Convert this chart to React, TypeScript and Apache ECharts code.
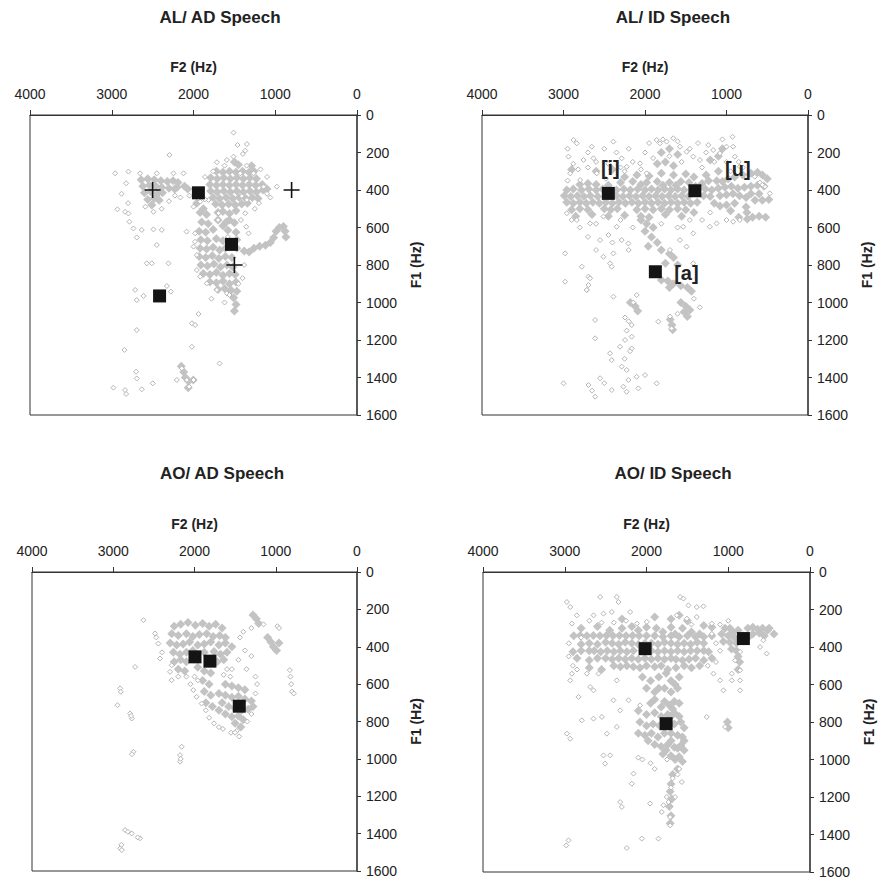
import React, { useEffect, useRef } from "react";
import * as echarts from "echarts";

const FONT = '"Liberation Sans", Arial, Helvetica, sans-serif';

const panelTitles = ["AL/ AD Speech", "AL/ ID Speech", "AO/ AD Speech", "AO/ ID Speech"];
const f2Name = "F2 (Hz)";
const f1Name = "F1 (Hz)";

// ---------- Panel 1: AL/ AD ----------
const alAdDense = [
  [2640,345],[2560,340],[2480,345],[2400,350],[2620,380],[2540,375],[2460,380],[2390,385],
  [2600,415],[2520,410],[2440,420],[2380,415],[2560,450],[2480,445],[2420,455],[2510,480],
  [2320,355],[2250,350],[2190,360],[2300,390],[2230,395],[2200,385],[2110,380],[2070,395],[1960,470],
  [1500,250],[1450,265],[1290,270],
  [1720,300],[1640,305],[1560,300],[1480,305],[1400,300],[1320,305],[1260,300],
  [1790,335],[1710,340],[1630,335],[1550,340],[1470,335],[1390,340],[1310,335],[1230,340],
  [1800,370],[1720,375],[1640,370],[1560,375],[1480,370],[1400,375],[1320,370],[1240,375],[1160,370],
  [1790,405],[1710,410],[1630,405],[1550,410],[1470,405],[1390,410],[1310,405],[1230,410],[1150,400],[1100,395],
  [1760,440],[1680,445],[1600,440],[1520,445],[1440,440],[1360,445],[1280,440],[1210,445],
  [1730,475],[1650,480],[1570,475],[1490,480],[1410,475],[1340,470],
  [1880,500],[1700,520],[1560,560],[1640,590],
  [1920,520],[1840,530],[1640,515],[1560,525],[1480,510],
  [1900,570],[1820,580],[1700,560],[1600,570],[1500,575],
  [1930,620],[1850,625],[1760,610],[1580,615],[1480,625],
  [1910,665],[1830,670],[1720,660],[1640,670],[1470,665],
  [1920,710],[1840,715],[1760,705],[1680,720],[1610,710],[1470,710],
  [1930,755],[1850,760],[1770,750],[1690,765],[1610,755],[1530,760],
  [1910,800],[1830,805],[1750,795],[1670,810],[1590,800],[1520,810],
  [1880,845],[1800,850],[1720,840],[1640,855],[1560,845],[1490,850],
  [1800,890],[1720,895],[1640,885],[1560,900],[1480,890],
  [1700,930],[1620,925],[1540,935],[1470,940],[1510,975],[1480,1010],[1500,1045],
  [1380,725],[1320,730],[1260,710],[1190,700],[1120,695],[1060,680],[1020,655],[990,620],[950,600],[900,595],[880,620],[870,650],
  [2150,1340],[2120,1370],[2100,1400],[2060,1420],[2065,1455],[2003,1413]
];
const alAdSparse = [
  [1510,94],[1461,160],[1347,155],[1367,190],[1396,208],[1510,222],[1592,240],[1714,252],[2294,213],
  [2959,311],[2796,302],[2653,311],[2449,311],[2245,311],[2122,311],[2824,364],[2880,420],[2800,470],
  [2931,503],[2837,516],[2796,525],[2784,569],[2735,605],[2694,653],[2633,613],[2490,610],[2388,613],[2449,693],
  [2571,791],[2510,791],[2306,791],[2714,933],[2612,965],[2694,987],[2326,912],[2277,942],
  [2694,1147],[2845,1253],[2702,1369],[2694,1405],[2633,1463],[2498,1431],[2980,1454],[2837,1467],[2824,1488],
  [2143,1351],[2081,1413],[2053,1449],[2000,1413],[2204,1413],[2020,1236],[1681,1325],
  [2020,1111],[1939,1061],[1980,1120],[1959,827],[1918,862],[1837,898],[1714,933],[1592,951],
  [1980,631],[2000,702],[1959,747],[2000,489],[1918,462],[1816,453],[1694,524],[1355,596],[1326,631],
  [1367,524],[1347,453],[1408,432],[1143,382],[980,382],[1265,311],[1428,311],
  [2590,489],[2490,516],[2227,430],[2084,622],[1982,676],[2390,500],[2300,460],[2160,440],[2050,430],
  [1700,560],[1580,650],[1420,560],[1380,800],[1400,870],[1450,900],[1560,960],[1780,980],[1620,1000],
  [1100,420],[1060,440],[1200,470],[1250,500],[1100,330],[1180,290],[1350,270],[1620,270],[1760,300],[1860,330],[1860,450]
];
const alAdVowels = [[1940,415],[1535,690],[2415,965]];
const alAdReference = [[2500,400],[800,400],[1500,800]];

// ---------- Panel 2: AL/ ID ----------
const alIdDense = [
  [2300,360],[2150,355],[1980,360],[1850,355],[1700,360],[1560,355],[1460,360],[1300,365],[1220,350],
  [2960,400],[2880,395],[2780,400],[2690,395],[2600,400],[2520,395],[2440,395],[2350,400],[2260,395],[2180,400],[2090,395],
  [2000,400],[1920,395],[1840,400],[1760,395],[1680,400],[1600,395],[1520,400],[1260,395],[1180,400],
  [2990,430],[2910,435],[2830,430],[2750,435],[2670,430],[2580,435],[2460,435],[2350,430],[2270,435],[2190,430],[2110,435],
  [2030,430],[1950,435],[1870,430],[1790,435],[1710,430],[1630,435],[1550,430],[1470,435],[1280,430],[1200,435],
  [2960,465],[2880,470],[2800,465],[2720,470],[2640,465],[2560,470],[2480,465],[2400,470],[2320,465],[2240,470],
  [2160,465],[2080,470],[2000,465],[1920,470],[1840,465],[1760,470],[1680,465],[1600,470],[1520,465],[1440,470],[1360,465],
  [2900,505],[2800,500],[2700,505],[2500,500],[2420,505],[2340,500],[2100,505],[2000,500],[1900,505],[1800,500],[1700,505],[1600,500],[1500,505],
  [2800,370],[2700,365],[2600,370],[2450,375],[2050,370],[1780,375],[1620,375],[1380,380],
  [2250,330],[2100,320],[1950,325],[1800,310],[1650,320],[1500,315],[1400,330],[1250,320],[1100,300],
  [1850,260],[1750,250],[1650,270],[1800,200],[1700,180],[1600,210],[1200,240],[1100,220],[1050,180],
  [2850,540],[2650,530],[2450,540],[2250,535],[2050,540],[1950,545],[1750,530],[1550,540],[1400,520],
  [2600,300],[2400,290],[2900,290],
  [1120,350],[1050,355],[980,340],[900,330],[800,320],[700,310],[620,305],[560,320],[500,340],
  [1100,390],[1020,385],[940,380],[860,390],[780,385],[700,380],[620,375],[540,380],
  [1080,430],[1000,425],[920,420],[840,430],[760,440],[650,455],[560,455],[480,450],
  [900,470],[950,510],[1000,480],[700,420],[600,420],
  [760,490],[750,520],[745,555],[850,545],[680,545],[600,540],[520,545],[1150,470],[1080,485],
  [2050,560],[1980,580],[1900,600],[2000,620],[1920,650],[1850,680],[1960,700],[1800,720],[1700,740],[1650,760],[1750,790],[1600,800],
  [1800,880],[1720,885],[1650,900],[1560,910],[1480,920],[1430,940],[1700,920],
  [1560,1000],[1500,1020],[1450,1040],[1520,1050],[1480,1075],[1690,1090],[1670,1120],[1660,1145],
  [2180,1000],[2120,1020],[2090,1045]
];
const alIdSparse = [
  [2877,133],[2837,151],[2653,169],[2388,142],[2939,222],[2755,240],[2632,231],[2918,311],[2796,347],[2592,311],
  [2286,231],[2224,276],[2061,258],[1980,311],[1857,133],[1816,151],[1735,142],[1653,124],[1571,169],[1490,196],
  [1408,222],[1326,240],[1224,160],[1163,187],[1081,204],[1000,169],[926,116],[918,169],[898,222],[836,276],
  [653,329],[530,382],[469,418],[590,360],[560,372],
  [2950,180],[2880,260],[2820,290],[2700,200],[2700,280],[2600,250],[2500,180],[2450,260],[2350,200],[2300,280],
  [2200,180],[2150,250],[2000,200],[1950,150],[1900,230],[1780,130],[1700,220],[1600,140],[1550,250],[1450,180],
  [1350,150],[1300,280],[1150,250],[1000,250],[950,300],[850,250],[800,280],[750,330],[1250,200],[1050,130],
  [2050,290],[2250,300],[2480,340],[2950,350],
  [2900,560],[2800,600],[2600,580],[2300,560],[2150,600],[1800,580],[1600,600],[1450,560],[1300,560],[1200,520],
  [1000,560],[2700,650],[2400,680],[2200,720],[2600,720],
  [2959,524],[2837,560],[2673,578],[2510,542],[2449,640],[2551,667],[2347,596],[2286,667],[2204,685],[2388,738],
  [2510,756],[2980,738],[2775,809],[2429,791],[2408,809],[2694,862],[2714,933],[2980,889],[1531,596],[1408,631],
  [1204,596],[1122,578],[918,569],[837,560],[1571,667],[1490,702],[1694,720],[1408,791],
  [2612,1093],[2612,1191],[2674,871],[2694,907],[2715,933],[2388,969],[2163,1182],[2163,1245],[2184,1260],
  [2429,1271],[2408,1307],[2286,1342],[2225,1360],[2204,1413],[2102,1396],[2000,1387],[2551,1404],[2500,1430],
  [2408,1467],[2694,1440],[2650,1470],[2612,1502],[3000,1431],[2266,1449],[2225,1476],[2082,1458],[1857,1431],
  [1837,1102],[1674,1138],[2306,1236],[2245,1200],[2225,1150],[2200,1100],[2250,1300],[2143,1000],[2102,960],
  [2245,1080],[2163,1120],[1327,1026],[1600,1060],[1400,980],[1694,1075]
];
const alIdVowels = [[2450,418],[1388,404],[1873,836]];
const alIdVowelNames = ["[i]", "[u]", "[a]"];

// ---------- Panel 3: AO/ AD ----------
const aoAdDense = [
  [2250,290],[2170,280],[2080,270],[1990,285],[1900,275],[1820,290],[1740,280],[1660,300],
  [2280,330],[2200,340],[2100,330],[2020,345],[1940,335],[1850,330],[1770,345],[1690,340],[1620,350],
  [2300,380],[2220,390],[2140,385],[2060,375],[1960,390],[1880,385],[1800,375],[1700,390],[1620,380],[1540,400],
  [2260,430],[2180,440],[2100,430],[2020,420],[1880,430],[1760,425],[1680,440],[1600,430],
  [2250,480],[2170,470],[2100,480],[1960,510],[1720,480],[1640,470],
  [2200,520],[2120,530],[1880,530],[1800,540],
  [1900,580],[1820,600],[1880,640],[1800,660],[1860,700],[1780,720],[1700,740],
  [1620,600],[1540,610],[1460,620],[1380,630],
  [1700,650],[1620,660],[1540,670],[1460,665],[1380,680],[1300,690],
  [1660,700],[1580,720],[1500,730],[1420,740],[1340,735],[1280,720],
  [1620,760],[1540,775],[1460,770],[1400,790],[1500,810],[1430,830],
  [1280,230],[1240,250],[1210,275],[1100,350],[1060,375],[1030,400],[990,420],[960,380]
];
const aoAdSparse = [
  [2629,258],[2486,329],[2470,350],[2445,383],[2424,463],[2400,430],[2731,508],[2915,623],[2907,641],[2948,713],
  [2793,757],[2772,784],[2780,770],[2281,499],[2301,534],[2281,579],[2015,632],[1974,668],[1912,704],[1960,580],
  [2050,600],[1860,740],[1820,780],[1760,810],[1700,830],[1650,840],[1550,860],[1480,850],
  [2752,962],[2770,975],[2158,935],[2178,980],[2178,1015],[2170,1000],
  [2854,1381],[2820,1390],[2772,1399],[2670,1425],[2700,1420],[2915,1479],[2895,1488],[2900,1460],
  [827,525],[820,560],[810,600],[800,640],[778,650],[980,290],[960,300],[1150,280],[1300,300],[1400,320],
  [1440,350],[1380,420],[1300,450],[1460,470],[1360,520],[1540,520],[1560,560],[1250,560],[1230,600],[1250,650],
  [1300,760],[1350,800],[1450,880],[1500,860],[1600,520],[1640,550],[2000,560],[2100,560],[2200,560]
];
const aoAdVowels = [[1994,454],[1810,477],[1449,718]];

// ---------- Panel 4: AO/ ID ----------
const aoIdDense = [
  [2890,340],[2810,338],[2730,340],[2650,338],[2570,340],[2490,338],[2410,340],[2330,338],[2250,340],[2170,338],[2090,340],
  [2000,340],[1900,340],[1800,345],[1700,340],[1600,345],[1500,340],[1400,345],[1300,345],[1200,340],
  [2300,300],[2180,290],[2000,295],[1880,300],[1700,295],[1560,300],[1300,285],[1200,295],
  [2800,300],[2600,290],[2450,310],[2100,310],[1800,320],[1650,330],[1450,320],[1350,330],
  [1700,250],[1600,230],[1500,260],[1900,240],[2300,250],
  [2800,385],[2700,380],[2600,385],[2500,375],[2420,380],[2340,385],[2260,375],[2180,380],[2100,385],[2020,380],[1940,380],
  [1860,385],[1780,375],[1700,380],[1620,385],[1540,380],[1460,385],[1380,375],[1300,380],
  [2900,425],[2800,420],[2700,420],[2640,420],[2560,425],[2480,420],[2400,425],[2320,420],[2240,425],[2160,420],[2050,420],[1940,420],[1860,425],
  [1780,420],[1700,425],[1620,420],[1540,425],[1460,420],[1380,420],[1300,420],[1240,425],
  [2850,460],[2700,470],[2600,460],[2500,460],[2420,465],[2340,460],[2260,465],[2180,460],[2100,465],[2020,460],[1940,465],[1860,460],[1780,465],
  [1700,460],[1640,465],[1560,470],[1480,465],[1400,460],[1300,470],[1200,460],
  [2700,510],[2550,520],[2400,500],[2320,505],[2240,500],[2160,505],[2080,510],[2000,500],[1900,505],[1820,500],[1740,520],[1640,510],[1540,500],[1450,510],[1350,500],
  [1080,330],[1040,300],[1000,340],[980,300],[940,320],[920,350],[880,310],[860,350],[820,340],[760,300],[760,350],[700,295],[640,305],[580,300],[560,340],[520,310],[500,300],[440,330],
  [1060,370],[980,375],[900,380],[700,330],[620,325],[960,410],[900,420],[880,450],[860,480],[880,520],
  [2050,560],[1950,580],[1850,560],[1760,540],[1700,580],[1600,560],
  [2000,620],[1900,640],[1850,620],[1780,620],[1700,640],[1650,600],[1620,620],
  [1950,700],[1900,680],[1820,720],[1780,690],[1720,710],[1680,730],[1660,690],[1600,700],
  [2100,740],[2000,760],[1900,750],[1820,770],[1740,760],[1700,770],[1660,750],[1600,770],
  [2080,800],[2000,820],[1920,810],[1840,820],[1760,800],[1660,810],[1580,800],[1540,830],
  [2100,860],[2020,870],[1940,860],[1860,880],[1780,860],[1700,860],[1620,870],[1560,880],
  [1980,900],[1900,920],[1820,930],[1740,920],[1700,900],[1660,935],[1620,940],[1580,925],[1540,950],[1540,900],
  [1800,970],[1760,950],[1700,980],[1650,1000],[1600,985],[1560,1010],
  [1620,1050],[1680,1080],[1700,1130],[1710,1170],[1690,1210],[1720,1250],[1700,1300],[1710,1340],
  [1010,800],[1000,830]
];
const aoIdSparse = [
  [2974,160],[2933,187],[2567,133],[2363,133],[2343,160],[2648,231],[2526,222],[2424,213],[2200,213],[1589,133],
  [1548,142],[1487,178],[1385,187],[1304,183],[1202,275],[1385,240],[2913,275],[2852,231],[2118,275],[1996,266],
  [1630,231],[1507,249],
  [2950,380],[2950,450],[2900,500],[2850,520],[1250,500],[1150,480],[1100,420],[1150,380],[1200,330],[1100,280],
  [1000,260],[1450,280],[2250,260],[2400,270],[2550,270],[2700,260],[2800,350],
  [2933,578],[2913,542],[2831,666],[2689,613],[2648,631],[2730,542],[2587,542],[2363,578],[2404,684],[2322,738],
  [2648,782],[2546,773],[2791,791],[2363,826],[2485,862],[2974,862],[2933,889],[2220,684],[2078,711],[1181,542],
  [1100,578],[1059,631],[957,542],[957,578],[855,524],[855,578],[855,631],[917,471],[855,426],[611,400],
  [570,364],[530,435],[1263,773],[1039,826],
  [2982,1458],[2954,1431],[2057,1422],[1854,1422],[2241,1472],[2180,1129],[2159,1075],[1711,1307],[1711,1351],
  [1752,1200],[1731,1227],[1793,1244],[1813,1280],[1650,1200],[1568,1120],[2526,978],[2444,978],[2506,1022],
  [2322,1227],[2302,1253],[1956,1235],[1600,1050],[1620,1080],[1900,1050],[1950,1020],[2050,1000],[2100,990],
  [1750,1000],[1680,1100],[1700,1150]
];
const aoIdVowels = [[2017,409],[815,355],[1760,809]];

const panelDense = [alAdDense, alIdDense, aoAdDense, aoIdDense];
const panelSparse = [alAdSparse, alIdSparse, aoAdSparse, aoIdSparse];
const panelVowels = [alAdVowels, alIdVowels, aoAdVowels, aoIdVowels];

const grids = [
  { left: 30, top: 115, width: 327, height: 300 },
  { left: 482, top: 115, width: 326, height: 300 },
  { left: 32, top: 572, width: 325, height: 299 },
  { left: 483, top: 572, width: 327, height: 300 },
];
const titlePos = [[220, 17], [673, 17], [222, 473], [673, 473]];
const labelOffsets = [[2, -25], [43, -22], [31, 1]];

const CROSS = "path://M0,7.2H16V8.8H0Z M7.2,0H8.8V16H7.2Z";

export default function App() {
  const ref = useRef<HTMLDivElement>(null);
  useEffect(() => {
    document.body.style.margin = "0";
    if (!ref.current) return;
    const chart = echarts.init(ref.current, undefined, { renderer: "svg" });
    const xAxis = grids.map((_, i) => ({
      gridIndex: i, type: "value", position: "top", inverse: true,
      min: 0, max: 4000, interval: 1000,
      name: f2Name, nameLocation: "middle", nameGap: 41,
      nameTextStyle: { fontWeight: "bold", fontSize: 14, color: "#222", fontFamily: FONT },
      axisLine: { show: true, onZero: false, lineStyle: { color: "#333", width: 1 } },
      axisTick: { show: true, inside: false, length: 5, lineStyle: { color: "#333" } },
      axisLabel: { fontSize: 14, color: "#222", margin: 14, fontFamily: FONT, formatter: (v: number) => String(v) },
      splitLine: { show: false },
    }));
    const yAxis = grids.map((_, i) => ({
      gridIndex: i, type: "value", position: "right", inverse: true,
      min: 0, max: 1600, interval: 200,
      name: f1Name, nameLocation: "middle", nameGap: 52, nameRotate: 90,
      nameTextStyle: { fontWeight: "bold", fontSize: 14, color: "#222", fontFamily: FONT },
      axisLine: { show: true, onZero: false, lineStyle: { color: "#444", width: 1.5 } },
      axisTick: { show: true, inside: false, length: 4, lineStyle: { color: "#333" } },
      axisLabel: { fontSize: 14, color: "#222", margin: 9, fontFamily: FONT, formatter: (v: number) => String(v) },
      splitLine: { show: false },
    }));
    const series: any[] = [];
    grids.forEach((_, i) => {
      series.push({
        type: "scatter", xAxisIndex: i, yAxisIndex: i, symbol: "diamond", symbolSize: 9,
        itemStyle: { color: "#c3c3c3", opacity: 1 }, data: panelDense[i], silent: true, z: 2,
      });
      series.push({
        type: "scatter", xAxisIndex: i, yAxisIndex: i, symbol: "diamond", symbolSize: 5,
        itemStyle: { color: "#ffffff", borderColor: "#b5b5b5", borderWidth: 1, opacity: 1 },
        data: panelSparse[i], silent: true, z: 2,
      });
      series.push({
        type: "scatter", xAxisIndex: i, yAxisIndex: i, symbol: "rect", symbolSize: 13,
        itemStyle: { color: "#141414", opacity: 1 }, z: 5,
        data: panelVowels[i].map((v, k) =>
          i === 1
            ? {
                value: v,
                label: {
                  show: true, formatter: alIdVowelNames[k], position: "inside",
                  offset: labelOffsets[k], fontSize: 20, fontWeight: "bold",
                  color: "#222", fontFamily: FONT,
                },
              }
            : v
        ),
      });
    });
    series.push({
      type: "scatter", xAxisIndex: 0, yAxisIndex: 0, symbol: CROSS, symbolSize: 16,
      itemStyle: { color: "#111", opacity: 1 }, data: alAdReference, z: 6,
    });
    chart.setOption({
      animation: false,
      backgroundColor: "#ffffff",
      grid: grids.map((g) => ({ ...g, show: true, borderColor: "#333", borderWidth: 1, backgroundColor: "transparent" })),
      xAxis, yAxis, series,
      graphic: panelTitles.map((t, i) => ({
        type: "text", x: titlePos[i][0], y: titlePos[i][1],
        style: {
          text: t, fill: "#222", fontSize: 17, fontWeight: "bold", fontFamily: FONT,
          align: "center", verticalAlign: "middle",
        },
      })),
    });
    return () => chart.dispose();
  }, []);
  return <div ref={ref} style={{ width: 878, height: 880 }} />;
}
